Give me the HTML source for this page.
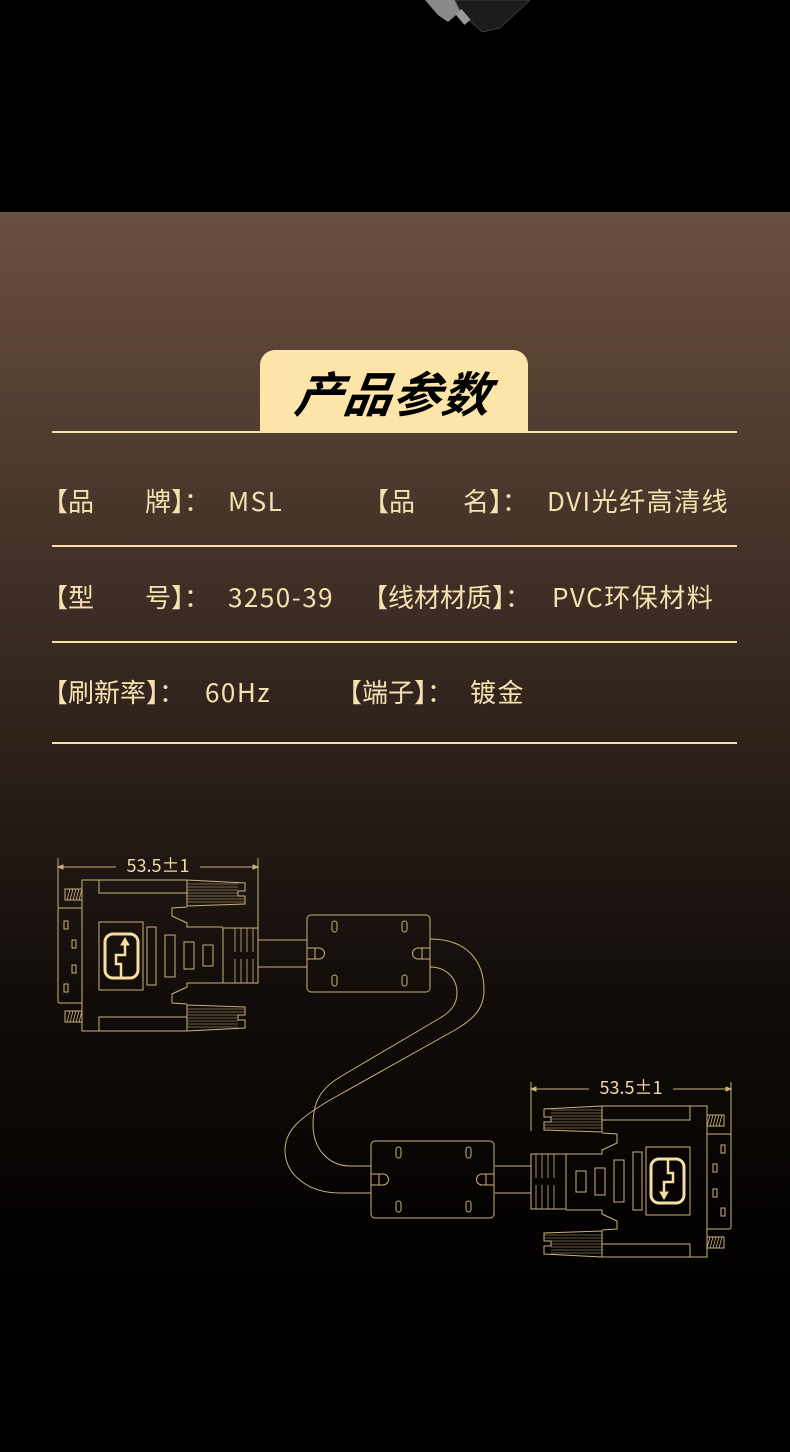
<!DOCTYPE html>
<html><head><meta charset="utf-8"><style>
html,body{margin:0;padding:0}
body{width:790px;height:1452px;position:relative;overflow:hidden;background:#000;font-family:"Liberation Sans","Noto Sans CJK SC",sans-serif}
.bg{position:absolute;left:0;top:212px;width:790px;height:1240px;background:linear-gradient(to bottom,#6b4f3e 0px,#4f3a2e 240px,#2e221b 520px,#140e0b 760px,#050302 1000px,#000 1100px)}
.tab{position:absolute;left:260px;top:350px;width:268px;height:82px;background:#fde5a9;border-radius:15px 15px 0 0}
.tab span{position:absolute;left:0;right:0;top:12px;text-align:center;font-size:48px;line-height:58px;font-weight:bold;font-style:italic;color:#000;letter-spacing:1px;transform:skewX(-8deg);font-family:"Noto Sans CJK SC",sans-serif}
.line{position:absolute;left:52px;width:685px;height:2px;background:#f8dfa5}
.t{position:absolute;font-size:26px;line-height:26px;color:#f6e2b0;white-space:nowrap;font-family:"Noto Sans CJK SC",sans-serif}
.v{letter-spacing:1.5px}
</style></head><body>
<svg style="position:absolute;left:0;top:0" width="790" height="40">
<polygon points="425,0 455,0 462,10 448,22 438,15" fill="#8a8a8a"/>
<polygon points="455,0 530,0 500,28 482,32 462,14" fill="#1c1c1c" stroke="#3a3a3a"/>
<rect x="459" y="10" width="8" height="14" fill="#9a9a9a" transform="rotate(-40 463 17)"/>
</svg>
<div class="bg"></div>
<div class="tab"><span>产品参数</span></div>
<div class="line" style="top:431px"></div>
<div class="line" style="top:545px"></div>
<div class="line" style="top:641px"></div>
<div class="line" style="top:742px"></div>

<div class="t" style="left:42px;top:488px">【品</div>
<div class="t" style="left:145px;top:488px">牌】：</div>
<div class="t v" style="left:228px;top:488px">MSL</div>
<div class="t" style="left:363px;top:488px">【品</div>
<div class="t" style="left:463px;top:488px">名】：</div>
<div class="t v" style="left:547px;top:488px">DVI光纤高清线</div>

<div class="t" style="left:42px;top:584px">【型</div>
<div class="t" style="left:145px;top:584px">号】：</div>
<div class="t v" style="left:228px;top:584px">3250-39</div>
<div class="t" style="left:362px;top:584px">【线材材质】：</div>
<div class="t v" style="left:552px;top:584px">PVC环保材料</div>

<div class="t" style="left:42px;top:679px">【刷新率】：</div>
<div class="t v" style="left:205px;top:679px">60Hz</div>
<div class="t" style="left:336px;top:679px">【端子】：</div>
<div class="t v" style="left:470px;top:679px">镀金</div>

<svg style="position:absolute;left:0;top:0" width="790" height="1452" fill="none" stroke="#c9b27c" stroke-width="1">
<defs>
<g id="conn">
  <path d="M82,908 H60 Q58,908 58,910 V1001 Q58,1003 60,1003 H82"/>
  <rect x="64" y="921" width="4" height="8"/><rect x="72" y="940" width="4" height="8"/>
  <rect x="72" y="965" width="4" height="8"/><rect x="64" y="984" width="4" height="8"/>
  <rect x="65" y="889" width="17" height="11"/><rect x="65" y="1011" width="17" height="11"/>
  <path d="M67,900 l3,-11 M70,900 l3,-11 M73,900 l3,-11 M76,900 l3,-11 M79,900 l3,-11 M67,1022 l3,-11 M70,1022 l3,-11 M73,1022 l3,-11 M76,1022 l3,-11 M79,1022 l3,-11" stroke-width="0.8"/>
  <path d="M187,880 H82 V1031 H187"/>
  <path d="M99,880 V893 H187 M99,1031 V1017 H187"/>
  <path d="M187,880 L245,883 V891 L238,891 V896 L245,896 V904 L187,906 Z"/>
  <path d="M187,884 H238 M187,887 H238 M187,890 H238 M187,893 H238 M187,896 H238 M187,899 H245 M187,902 H245" stroke-width="0.6"/>
  <path d="M187,1031 L245,1028 V1020 L238,1020 V1015 L245,1015 V1007 L187,1005 Z"/>
  <path d="M187,1027 H238 M187,1024 H238 M187,1021 H238 M187,1018 H238 M187,1015 H238 M187,1012 H245 M187,1009 H245" stroke-width="0.6"/>
  <path d="M187,907 L172,908 V916 L187,923 V927 H223 M223,983 H187 V987 L172,994 V1003 L187,1004"/>
  <rect x="223" y="928" width="35" height="55"/>
  <path d="M235,928 V952 M241,928 V952 M235,959 V983 M241,959 V983 M247,928 V952 M253,928 V952 M247,959 V983 M253,959 V983" stroke-width="0.8"/>
  <rect x="99" y="922" width="44" height="68"/>
  <rect x="147" y="927" width="9" height="58"/>
  <rect x="165" y="935" width="10" height="42"/>
  <rect x="184" y="942" width="10" height="27"/>
  <rect x="203" y="945" width="10" height="21"/>
  <rect x="105" y="934" width="33" height="44" rx="8" stroke="#f5dea0" stroke-width="3"/>
  <path d="M121,978 V964 H116 V955 H125 V944" stroke="#f5dea0" stroke-width="2.5"/>
  <path d="M121,945 L125,938 L129,945 Z" fill="#f5dea0" stroke="#f5dea0"/>
</g>
<g id="fer">
  <rect x="0" y="0" width="123" height="77" rx="4"/>
  <rect x="25" y="6" width="5" height="11" rx="2.5"/><rect x="95" y="6" width="5" height="11" rx="2.5"/>
  <rect x="25" y="60" width="5" height="11" rx="2.5"/><rect x="95" y="60" width="5" height="11" rx="2.5"/>
  <path d="M0,33 H12 A5.5,5.5 0 0 1 12,44 H0 M8,33 V44"/>
  <path d="M123,33 H111 A5.5,5.5 0 0 0 111,44 H123 M115,33 V44"/>
</g>
</defs>
<use href="#conn"/>
<g transform="translate(631,1181.5) rotate(180) translate(-158,-955.5)"><use href="#conn"/></g>
<path d="M58,858 V908 M258,858 V928 M60,867 H116 M200,867 H256"/>
<path d="M58,867 l5,-2 v4 Z M258,867 l-5,-2 v4 Z" fill="#c9b27c"/>
<path d="M531,1082 V1131 M731,1082 V1155 M533,1089 H589 M673,1089 H729"/>
<path d="M531,1089 l5,-2 v4 Z M731,1089 l-5,-2 v4 Z" fill="#c9b27c"/>
<path d="M258,940 H307 M258,967 H307 M495,1166 H531 M495,1193 H531"/>
<use href="#fer" transform="translate(307,915)"/>
<use href="#fer" transform="translate(371,1141)"/>
<path d="M430,939 C468,939 484,962 484,990 C484,1010 472,1020 455,1030 L330,1100 C300,1118 285,1130 285,1150 C285,1176 310,1193 340,1193 H371"/>
<path d="M430,967 C447,967 457,979 457,993 C457,1005 450,1012 440,1018 L340,1077 C322,1088 313,1100 313,1125 C313,1150 330,1166 350,1166 H371"/>
</svg>
<div class="t" style="left:116px;top:855px;width:84px;text-align:center;font-size:18px;line-height:20px;color:#f0dca8">53.5±1</div>
<div class="t" style="left:589px;top:1077px;width:84px;text-align:center;font-size:18px;line-height:20px;color:#f0dca8">53.5±1</div>
</body></html>
